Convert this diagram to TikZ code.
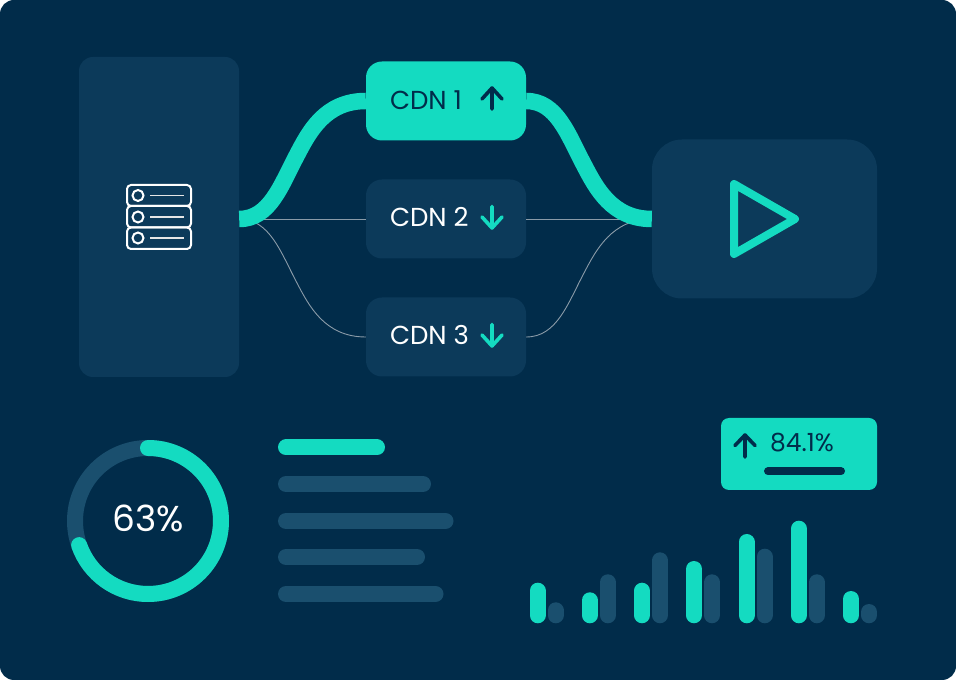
\documentclass[tikz,border=0pt]{standalone}
\usepackage{fontspec}
\setmainfont{Poppins}
\usetikzlibrary{positioning}
\definecolor{pagebg}{HTML}{012C4A}
\definecolor{boxbg}{HTML}{0C3A5A}
\definecolor{mint}{HTML}{14DBC1}
\definecolor{trackbg}{HTML}{1A4F6E}
\definecolor{thinline}{HTML}{8A9BA8}
\tikzset{
    panel/.style={fill=boxbg,inner sep=0pt,rounded corners=#1},
    panel/.default=16pt,
    cdnbox/.style={panel,minimum width=160pt,minimum height=79pt},
    cdnon/.style={cdnbox,fill=mint},
    cdnlabel/.style={inner sep=0pt,font=\fontsize{26}{26}\selectfont,text=white},
    fatlink/.style={draw=mint,line width=16.5pt},
    thinlink/.style={draw=thinline,line width=0.9pt},
    tipup/.style={draw=pagebg,line width=3.6pt,line cap=round,line join=round},
    tipdown/.style={tipup,draw=mint},
    tealbar/.style={draw=mint,line width=16pt,line cap=round},
    darkbar/.style={draw=trackbg,line width=16pt,line cap=round},
    rackbox/.style={draw=white,line width=2pt,rounded corners=4pt}
}
\begin{document}
\begin{tikzpicture}[x=1pt,y=1pt]
    \useasboundingbox (0,0) rectangle (956,680);
    \fill[pagebg,rounded corners=14pt] (0,0) rectangle (956,680);
    % upper part
    \node[panel=14pt,minimum width=160pt,minimum height=320pt] (origin) at (159,463) {};
    \node[panel=30pt,minimum width=225pt,minimum height=159pt] (player) at (764.5,461) {};
    \node[cdnon] (cdn1) at (446,579) {};
    \node[cdnbox] (cdn2) at (446,461) {};
    \node[cdnbox] (cdn3) at (446,343) {};
    \node[cdnlabel,text=pagebg,right=24pt of cdn1.west,yshift=1pt] (label1) {CDN 1};
    \node[cdnlabel,right=24pt of cdn2.west,yshift=1.5pt] (label2) {CDN 2};
    \node[cdnlabel,right=24pt of cdn3.west,yshift=1.5pt] (label3) {CDN 3};
    \coordinate (originout) at ([yshift=-2pt]origin.east);
    % links
    \draw[thinlink] (originout) -- (cdn2.west);
    \draw[thinlink] (cdn2.east) -- (player.west);
    \draw[thinlink] (originout) .. controls (270,461) and (281,427) .. (297,397) .. controls (309,374) and (325,343) .. (cdn3.west);
    \draw[thinlink] (cdn3.east) .. controls (557,343) and (568,377) .. (584,407) .. controls (596,430) and (612,461) .. (player.west);
    \draw[fatlink] (originout) .. controls (270,461) and (281,495) .. (297,525) .. controls (309,548) and (325,579) .. (cdn1.west);
    \draw[fatlink] (cdn1.east) .. controls (557,579) and (568,545) .. (584,515) .. controls (596,492) and (612,461) .. (player.west);
    % arrows in the boxes
    \draw[tipup] (492,592) -- (492,571) (482,581) -- (492,592) -- (502,581);
    \draw[tipdown] (492,473.5) -- (492,452) (482,463) -- (492,452) -- (502,463);
    \draw[tipdown] (492,355.5) -- (492,334) (482,345) -- (492,334) -- (502,345);
    % server
    \draw[rackbox] (127,474) rectangle (191,495);
    \draw[rackbox] (127,452.5) rectangle (191,474);
    \draw[rackbox] (127,431) rectangle (191,452.5);
    \draw[white,line width=2pt] (138,484.5) circle (5.5);
    \draw[white,line width=2pt] (138,463) circle (5.5);
    \draw[white,line width=2pt] (138,442) circle (5.5);
    \draw[white!90!black,line width=1.6pt] (150,484.5) -- (184,484.5);
    \draw[white!90!black,line width=1.6pt] (150,463) -- (184,463);
    \draw[white!90!black,line width=1.6pt] (150,442) -- (184,442);
    % play
    \draw[mint,line width=8pt,line join=round] (734,496) -- (795,461) -- (734,426) -- cycle;
    % ring
    \draw[trackbg,line width=16pt] (148,159) circle (73);
    \draw[mint,line width=16pt,line cap=round] (148,232) arc (90:-160.7:73);
    \node[inner sep=0pt,text=white,font=\fontsize{36}{36}\selectfont] (ringtext) at (148,161.5) {63\%};
    % list
    \draw[tealbar] (286,232.5) -- (377,232.5);
    \draw[darkbar] (286,196) -- (423,196);
    \draw[darkbar] (286,159) -- (445.5,159);
    \draw[darkbar] (286,123) -- (417,123);
    \draw[darkbar] (286,86) -- (435.5,86);
    % badge
    \node[panel=8pt,fill=mint,minimum width=156pt,minimum height=72pt] (badge) at (799,226) {};
    \node[inner sep=0pt,text=pagebg,font=\fontsize{25}{25}\selectfont,right=49pt of badge.west,yshift=11pt] (badgetext) {84.1\%};
    \draw[tipup] (745,245) -- (745,223) (735,234.5) -- (745,245) -- (755,234.5);
    \draw[draw=pagebg,line width=8pt,line cap=round] (768,208.7) -- (841,208.7);
    % bars
    \draw[tealbar] (537.5,64.7) -- (537.5,89.3);
    \draw[darkbar] (555.5,64.7) -- (555.5,69.7);
    \draw[tealbar] (589.8,64.7) -- (589.8,79.7);
    \draw[darkbar] (607.8,64.7) -- (607.8,97.7);
    \draw[tealbar] (642,64.7) -- (642,89.3);
    \draw[darkbar] (660,64.7) -- (660,119.7);
    \draw[tealbar] (694,64.7) -- (694,111);
    \draw[darkbar] (712,64.7) -- (712,97.7);
    \draw[tealbar] (746.5,64.7) -- (746.5,138);
    \draw[darkbar] (764.5,64.7) -- (764.5,123.3);
    \draw[tealbar] (798.8,64.7) -- (798.8,151.3);
    \draw[darkbar] (816.8,64.7) -- (816.8,97.7);
    \draw[tealbar] (851,64.7) -- (851,81);
    \draw[darkbar] (869,64.7) -- (869,68);
\end{tikzpicture}
\end{document}
